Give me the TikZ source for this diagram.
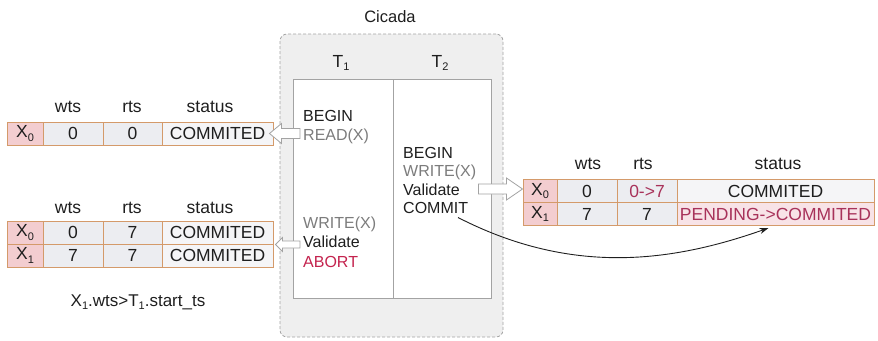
\documentclass[tikz,border=0pt]{standalone}
\usepackage{fontspec}
\setmainfont{Liberation Sans}
\usetikzlibrary{calc,arrows.meta}

\definecolor{cellline}{HTML}{D49A6A}
\definecolor{keyfill}{HTML}{F3CDD0}
\definecolor{valfill}{HTML}{ECEDF1}
\definecolor{statfill}{HTML}{F5F5F7}
\definecolor{pendfill}{HTML}{F8E3E7}
\definecolor{hotred}{HTML}{A8325A}
\definecolor{abortred}{HTML}{C4234E}
\definecolor{opgray}{HTML}{7C7C7C}
\definecolor{panelfill}{HTML}{EFEFEF}
\definecolor{panelline}{HTML}{A3A3A3}
\definecolor{ink}{HTML}{1E1E1E}

% small lowered index used in X_0, T_1, ...
\newcommand\idx[1]{\raisebox{-0.35ex}{\fontsize{11}{12}\selectfont #1}}

% hollow horizontal block arrow: tail x from #1, tip at #2,
% half body height #3, half head height #4, signed head length #5
\newcommand\hollowarrow[5]{%
  \draw[blockarr] let \p1=(#1), \p2=(#2) in
    (\x1,{\y2+#3pt}) -- ({\x2+#5pt},{\y2+#3pt}) -- ({\x2+#5pt},{\y2+#4pt})
    -- (\x2,\y2) -- ({\x2+#5pt},{\y2-#4pt}) -- ({\x2+#5pt},{\y2-#3pt})
    -- (\x1,{\y2-#3pt}) -- cycle;}

\begin{document}
\begin{tikzpicture}[x=1pt,y=-1pt,
  every node/.style={text=ink},
  cell/.style={draw=cellline, line width=1pt, minimum height=23pt, inner sep=0pt,
    font=\fontsize{17.5}{20}\selectfont},
  keycell/.style={cell, fill=keyfill, minimum width=36pt},
  valcell/.style={cell, fill=valfill, minimum width=60pt},
  statcell/.style={cell, fill=statfill},
  hdr/.style={anchor=base, inner sep=0pt, font=\fontsize{17.5}{20}\selectfont},
  op/.style={anchor=base west, inner sep=0pt, font=\fontsize{16}{18}\selectfont},
  grayop/.style={op, text=opgray},
  blockarr/.style={draw=panelline, fill=white, line width=0.8pt, line join=miter},
  column/.style={draw=panelline, fill=white, line width=0.8pt, minimum height=219pt, inner sep=0pt},
  link/.style={draw=ink, line width=0.9pt, -{Stealth[length=9pt,width=6pt]}}
]
\useasboundingbox (0,0) rectangle (878,340);

% ---- Cicada engine panel ----
\node[draw=panelline, dashed, dash pattern=on 3pt off 2pt, fill=panelfill, rounded corners=7pt,
      line width=0.8pt, minimum width=223pt, minimum height=303pt, inner sep=0pt]
      (cicada) at (391.5,185.5) {};
\node[hdr, font=\fontsize{16.5}{19}\selectfont] (cname) at (390,23) {Cicada};
\node[column, minimum width=100pt] (t1col) at (343,188.5) {};
\node[column, minimum width=98pt] (t2col) at (442,188.5) {};
\node[hdr] (t1name) at (341,67) {T\idx1};
\node[hdr] (t2name) at (440,67) {T\idx2};

% T1 operations
\node[op] (begin1) at (303,121) {BEGIN};
\node[grayop] (read1) at (303,140) {READ(X)};
\node[grayop] (write1) at (303,228) {WRITE(X)};
\node[op] (valid1) at (303,247) {Validate};
\node[op, text=abortred] (abort1) at (303,267) {ABORT};

% T2 operations
\node[op] (begin2) at (403,158) {BEGIN};
\node[grayop] (write2) at (403,176.5) {WRITE(X)};
\node[op] (valid2) at (403,195) {Validate};
\node[op] (commit2) at (403,213.5) {COMMIT};

% ---- version table seen by T1's read ----
\node[hdr] (ah1) at (68,112) {wts};
\node[hdr] (ah2) at (132,112) {rts};
\node[hdr] (ah3) at (210,112) {status};
\node[keycell] (a0k) at (25,133.5) {X\idx0};
\node[valcell] (a0w) at (73,133.5) {0};
\node[valcell, minimum width=59pt] (a0r) at (132.5,133.5) {0};
\node[statcell, minimum width=111pt] (a0s) at (217.5,133.5) {COMMITED};

% ---- version table seen by T1's validation ----
\node[hdr] (bh1) at (68,213) {wts};
\node[hdr] (bh2) at (132,213) {rts};
\node[hdr] (bh3) at (210,213) {status};
\node[keycell] (b0k) at (25,232.5) {X\idx0};
\node[valcell] (b0w) at (73,232.5) {0};
\node[valcell, minimum width=59pt] (b0r) at (132.5,232.5) {7};
\node[statcell, minimum width=111pt] (b0s) at (217.5,232.5) {COMMITED};
\node[keycell] (b1k) at (25,255.5) {X\idx1};
\node[valcell] (b1w) at (73,255.5) {7};
\node[valcell, minimum width=59pt] (b1r) at (132.5,255.5) {7};
\node[statcell, minimum width=111pt] (b1s) at (217.5,255.5) {COMMITED};
\node[hdr, font=\fontsize{17}{20}\selectfont] (cond) at (138,306)
  {X\idx1.wts>T\idx1.start\_ts};

% ---- version table after T2 commits ----
\node[hdr] (ch1) at (588,169) {wts};
\node[hdr] (ch2) at (643,169) {rts};
\node[hdr] (ch3) at (778,169) {status};
\node[keycell, minimum width=34pt] (c0k) at (540,191) {X\idx0};
\node[valcell] (c0w) at (587,191) {0};
\node[valcell] (c0r) at (647,191) {\textcolor{hotred}{0->7}};
\node[statcell, minimum width=197pt] (c0s) at (775.5,191) {COMMITED};
\node[keycell, minimum width=34pt] (c1k) at (540,214) {X\idx1};
\node[valcell] (c1w) at (587,214) {7};
\node[valcell] (c1r) at (647,214) {7};
\node[statcell, fill=pendfill, minimum width=197pt] (c1s) at (775.5,214)
  {\textcolor{hotred}{PENDING->COMMITED}};

% ---- connectors ----
\hollowarrow{$(read1.west)+(-3,0)$}{$(a0s.east)+(-4,0)$}{5}{10}{12}
\hollowarrow{$(valid1.west)+(-3,0)$}{$(b0s.south east)+(2,0)$}{3.5}{7}{7}
\hollowarrow{$(t2col.east)+(-13,0)$}{$(c0k.west)+(0,-2)$}{5}{11}{-16}
\draw[link] ($(commit2.base west)+(55,4)$)
  .. controls (572,276) and (672,262) .. ($(c1s.south)+(-7,2)$);
\end{tikzpicture}
\end{document}
